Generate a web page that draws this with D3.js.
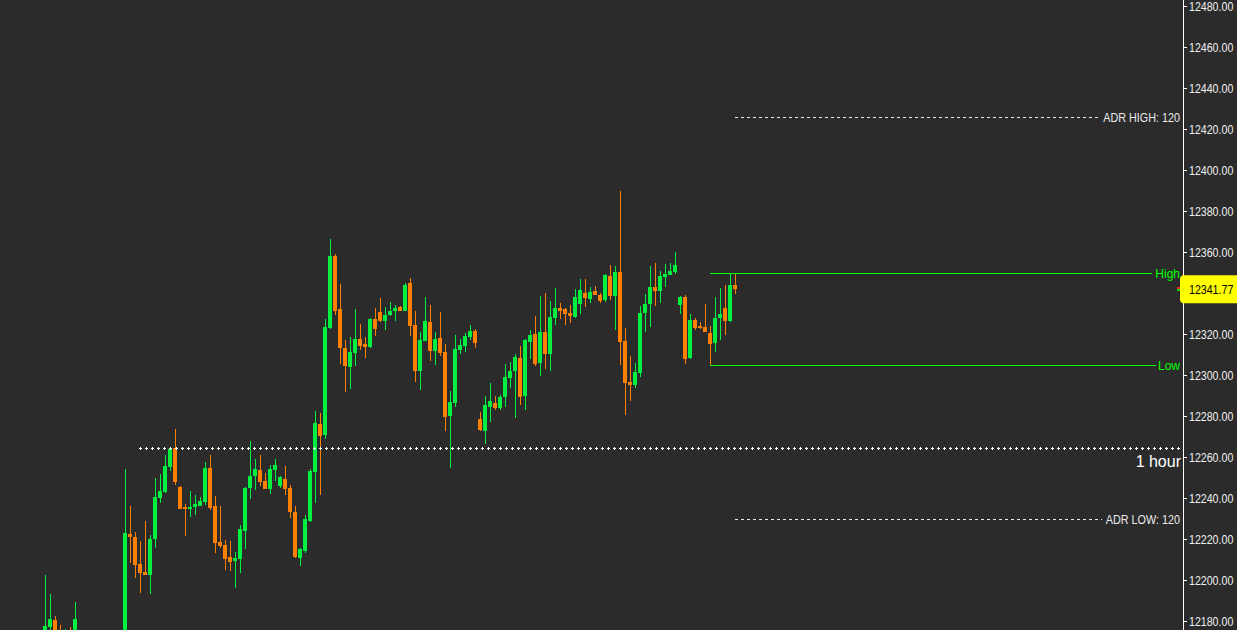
<!DOCTYPE html>
<html><head><meta charset="utf-8">
<script src="https://cdn.jsdelivr.net/npm/d3@7/dist/d3.min.js"></script>
<style>html,body{margin:0;padding:0;background:#2b2b2b;overflow:hidden}svg{display:block}</style>
</head><body>
<svg id="chart" width="1237" height="630"></svg>
<script>
// ---- data ----
const opens  = [12170,12177.2,12180.5,12172,12163,12172,12168,12174,12155,12145,12152,12148,12140,12146,12155,12150,12158,12222.4,12221.1,12207.8,12203.9,12202.6,12219.9,12240.0,12242.9,12255.3,12264.5,12245.5,12235.8,12234.8,12235.5,12236.1,12238.2,12254.8,12236.2,12218.7,12217.2,12211.1,12209.4,12210.4,12224.0,12244.9,12250.9,12253.7,12248.3,12244.5,12253.8,12246.0,12249.3,12245.0,12233.3,12210.9,12214.3,12228.8,12252.8,12276.1,12270.9,12322.9,12358.2,12332.1,12313.3,12303.9,12310.7,12317.7,12315.3,12313.5,12327.5,12330.9,12326.3,12329.3,12331.2,12333.0,12331.2,12344.9,12324.4,12302.0,12316.6,12325.9,12311.7,12318.2,12311.2,12280.0,12286.3,12312.2,12314.3,12318.5,12321.6,12278.7,12272.8,12284.2,12286.1,12283.9,12289.4,12298.5,12302.0,12308.4,12289.8,12316.1,12320.1,12305.9,12321.1,12310.2,12327.8,12332.8,12332.2,12330.4,12328.4,12334.6,12340.1,12337.1,12341.1,12339.0,12336.6,12348.4,12338.5,12350.4,12316.7,12296.6,12295.3,12301.1,12330.4,12334.6,12343.1,12341.1,12348.0,12349.0,12350.4,12334.3,12338.2,12308.4,12327.0,12324.1,12323.4,12320.5,12315.8,12328.0,12332.7,12326.5,12344.0];
const highs  = [12202.4,12193.2,12182.4,12178,12176,12177,12189.3,12175,12162,12158,12160,12156,12150,12160,12165,12162,12254.1,12236.1,12223.4,12219.0,12228.8,12222.0,12249.8,12251.7,12261.0,12265.0,12273.7,12245.8,12237.1,12243.4,12241.5,12240.3,12257.6,12261.0,12241.0,12236.1,12219.5,12219.0,12213.7,12226.7,12245.5,12267.8,12259.0,12261.0,12252.0,12256.0,12259.0,12250.7,12255.6,12246.3,12236.1,12215.6,12231.7,12254.0,12282.4,12281.5,12327.3,12366.3,12359.0,12344.4,12317.1,12318.5,12332.2,12324.9,12318.5,12327.8,12332.7,12337.6,12333.2,12335.6,12334.1,12333.7,12344.9,12347.3,12331.2,12321.0,12338.1,12334.1,12321.0,12330.7,12315.1,12292.2,12319.5,12317.6,12320.5,12324.4,12322.4,12282.0,12289.8,12296.1,12289.8,12290.2,12305.4,12306.3,12310.2,12314.1,12317.6,12322.0,12328.8,12338.5,12340.0,12336.1,12342.4,12335.1,12332.7,12334.1,12342.0,12346.8,12346.8,12342.9,12343.4,12340.0,12349.3,12353.7,12353.2,12389.8,12322.9,12309.3,12305.9,12333.7,12339.5,12353.2,12354.6,12350.7,12354.1,12354.6,12360.0,12338.5,12339.0,12329.8,12327.8,12325.9,12334.6,12323.9,12338.1,12342.4,12343.9,12349.9,12349.9];
const lows   = [12165,12172,12165,12160,12158,12162,12164,12150,12140,12138,12144,12135,12132,12142,12148,12145,12152,12208.4,12201.1,12193.8,12202.4,12193.3,12215.8,12237.7,12242.6,12253.3,12246.3,12234.5,12221.6,12230.9,12231.9,12236.0,12236.6,12234.3,12213.3,12215.6,12204.9,12204.5,12196.2,12203.6,12215.3,12239.7,12244.0,12246.0,12244.3,12242.1,12248.1,12244.9,12241.6,12230.4,12210.9,12207.0,12213.0,12228.4,12237.7,12241.6,12268.8,12322.4,12329.3,12305.4,12291.7,12293.2,12304.4,12312.2,12308.3,12313.2,12319.0,12326.0,12322.0,12329.0,12326.3,12331.2,12331.0,12319.0,12296.6,12292.7,12316.4,12306.8,12304.9,12309.3,12272.7,12254.6,12284.5,12310.2,12311.2,12317.1,12313.3,12272.7,12266.3,12277.1,12282.9,12282.9,12284.4,12293.7,12279.0,12285.4,12282.9,12307.8,12304.4,12299.5,12302.9,12302.0,12324.4,12327.3,12324.4,12325.4,12328.0,12329.8,12333.2,12335.1,12338.8,12335.1,12335.6,12336.6,12322.0,12304.9,12280.5,12287.3,12293.7,12299.2,12321.0,12323.4,12333.7,12335.1,12342.9,12348.8,12349.3,12329.8,12305.5,12308.0,12322.1,12322.6,12321.0,12305.0,12311.4,12317.2,12319.7,12326.0,12339.7];
const closes = [12177.6,12180.8,12170,12165,12172,12168,12181.1,12155,12145,12152,12148,12140,12146,12155,12150,12158,12222.8,12221.1,12207.5,12203.6,12202.6,12220.1,12240.6,12243.6,12255.8,12264.0,12248.0,12234.8,12234.5,12235.5,12237.1,12238.7,12254.8,12235.3,12218.2,12216.6,12210.4,12208.9,12210.6,12224.7,12245.0,12250.9,12254.3,12248.0,12244.5,12254.1,12256.2,12250.2,12244.5,12233.2,12211.2,12215.3,12229.9,12253.3,12276.7,12270.4,12323.4,12358.2,12331.2,12313.3,12304.4,12311.2,12317.7,12314.1,12313.7,12327.5,12322.4,12326.3,12329.4,12331.4,12332.8,12331.4,12344.0,12323.9,12302.0,12317.2,12326.5,12311.7,12317.7,12310.7,12279.5,12287.0,12312.8,12314.8,12319.2,12321.6,12315.8,12273.2,12285.4,12287.3,12283.9,12289.4,12299.2,12302.1,12308.9,12289.3,12317.2,12319.7,12305.4,12321.1,12310.2,12328.4,12332.8,12331.2,12329.8,12328.8,12338.2,12341.6,12337.6,12340.6,12339.0,12336.1,12349.0,12338.5,12350.4,12316.1,12296.1,12295.3,12301.6,12330.4,12334.8,12343.1,12341.1,12348.4,12349.4,12350.9,12353.8,12338.2,12308.0,12326.7,12323.1,12323.1,12321.1,12315.3,12328.0,12329.9,12326.5,12344.0,12341.77];
const yTicks = [12180,12200,12220,12240,12260,12280,12300,12320,12340,12360,12380,12400,12420,12440,12460,12480];
const lastPrice = 12341.77;
const adrHigh = 12425.9, adrLow = 12229.8;
const adrHighLabel = "ADR HIGH: 120", adrLowLabel = "ADR LOW: 120";
const dayHigh = 12349.9, dayLow = 12305.0;
const hourLevel = 12264.2, hourLabel = "1 hour";
const hourStartIndex = 19, hlStartIndex = 133;

// ---- drawing ----
const W = 1237, H = 630, axisX = 1183;
const FONT = "Liberation Sans, Arial, sans-serif";
const svg = d3.select("#chart");
svg.append("rect").attr("width", W).attr("height", H).attr("fill", "#2b2b2b");

const n = opens.length;
const x = d3.scaleLinear().domain([0, n - 1]).range([45, 735]);
const y = d3.scaleLinear().domain([12180, 12480]).range([621, 6]);

const GREEN = "#00f040", ORANGE = "#ff8000", LINEG = "#00ff00";

svg.append("clipPath").attr("id", "clip").append("rect").attr("width", axisX).attr("height", H);
const plot = svg.append("g").attr("clip-path", "url(#clip)");

const idx = d3.range(n);
const cg = plot.append("g").attr("shape-rendering", "crispEdges");
cg.selectAll("rect.wick").data(idx).join("rect").attr("class", "wick")
  .attr("x", i => Math.round(x(i)))
  .attr("width", 1)
  .attr("y", i => y(highs[i]))
  .attr("height", i => Math.max(1, y(lows[i]) - y(highs[i])))
  .attr("fill", i => closes[i] >= opens[i] ? GREEN : ORANGE);
cg.selectAll("rect.body").data(idx).join("rect").attr("class", "body")
  .attr("x", i => Math.round(x(i)) - 2)
  .attr("width", 4)
  .attr("y", i => y(Math.max(opens[i], closes[i])))
  .attr("height", i => Math.max(1.5, Math.abs(y(opens[i]) - y(closes[i]))))
  .attr("fill", i => closes[i] >= opens[i] ? GREEN : ORANGE);

// 1 hour dotted (plus) level
const hy = Math.round(y(hourLevel)) + 0.5;
const hx0 = Math.round(x(hourStartIndex)) - 1;
const lg = svg.append("g").attr("shape-rendering", "crispEdges");
lg.append("line").attr("x1", hx0).attr("x2", 1181).attr("y1", hy).attr("y2", hy)
  .attr("stroke", "#fff").attr("stroke-width", 1).attr("stroke-dasharray", "3,3");
lg.append("line").attr("x1", hx0 + 1).attr("x2", 1181).attr("y1", hy).attr("y2", hy)
  .attr("stroke", "#fff").attr("stroke-width", 3).attr("stroke-dasharray", "1,5");
svg.append("text").attr("x", 1181).attr("y", hy + 18).attr("text-anchor", "end")
  .attr("font-family", FONT).attr("font-size", 16)
  .attr("fill", "#ffffff").text(hourLabel);

// ADR lines
function adr(val, label, lx) {
  const yy = Math.round(y(val)) + 0.5;
  lg.append("line").attr("x1", Math.round(x(n - 1))).attr("x2", lx - 2).attr("y1", yy).attr("y2", yy)
    .attr("stroke", "#e8e8e8").attr("stroke-width", 1).attr("stroke-dasharray", "3,3");
  svg.append("text").attr("transform", `translate(1180,${yy}) scale(0.9,1)`)
    .attr("dy", "0.35em").attr("text-anchor", "end")
    .attr("font-family", FONT).attr("font-size", 12)
    .attr("fill", "#ececec").text(label);
}
adr(adrHigh, adrHighLabel, 1100);
adr(adrLow, adrLowLabel, 1104);

// Session high / low (solid green levels drawn as 1px rects)
function hl(val, label, lx) {
  const yy = Math.round(y(val));
  const x0 = Math.round(x(hlStartIndex));
  lg.append("rect").attr("x", x0).attr("y", yy).attr("width", lx - x0).attr("height", 1)
    .attr("fill", LINEG);
  svg.append("text").attr("x", 1180).attr("y", yy + 0.5).attr("dy", "0.35em").attr("text-anchor", "end")
    .attr("font-family", FONT).attr("font-size", 12)
    .attr("fill", LINEG).text(label);
}
hl(dayHigh, "High", 1152);
hl(dayLow, "Low", 1156);

// y axis (labels hidden by the price box are skipped)
const py = y(lastPrice);
const ax = svg.append("g").attr("transform", `translate(${axisX + 0.5},0)`)
  .call(d3.axisRight(y).tickValues(yTicks).tickSize(3).tickPadding(4)
    .tickFormat(d => Math.abs(y(d) - py) < 14 ? "" : d3.format(".2f")(d)));
ax.select(".domain").remove();
ax.selectAll("line").attr("stroke", "#ffffff").attr("shape-rendering", "crispEdges");
ax.selectAll("text").attr("fill", "#f0f0f0").attr("font-size", 12.5)
  .attr("font-family", FONT).attr("x", 0)
  .attr("transform", "translate(5.5,0) scale(0.85,1)");
svg.append("line").attr("x1", axisX + 0.5).attr("x2", axisX + 0.5).attr("y1", 0).attr("y2", H)
  .attr("stroke", "#ffffff").attr("stroke-width", 1).attr("shape-rendering", "crispEdges");

// current price marker
const bx = 1180, bh = 28, r = 4;
svg.append("path")
  .attr("d", `M${W},${py - bh/2} L${bx + r},${py - bh/2} Q${bx},${py - bh/2} ${bx},${py - bh/2 + r} L${bx},${py + bh/2 - r} Q${bx},${py + bh/2} ${bx + r},${py + bh/2} L${W},${py + bh/2} Z`)
  .attr("fill", "#ffff00");
svg.append("text").attr("transform", `translate(1189,${py}) scale(0.85,1)`).attr("dy", "0.36em")
  .attr("font-family", FONT).attr("font-size", 12.5)
  .attr("fill", "#000").text(d3.format(".2f")(lastPrice));
svg.append("rect").attr("x", 1177).attr("y", Math.round(py) - 2).attr("width", 3).attr("height", 2).attr("fill", "#ff2020");
svg.append("rect").attr("x", 1177).attr("y", Math.round(py)).attr("width", 3).attr("height", 2).attr("fill", "#00e000");
</script>
</body></html>
